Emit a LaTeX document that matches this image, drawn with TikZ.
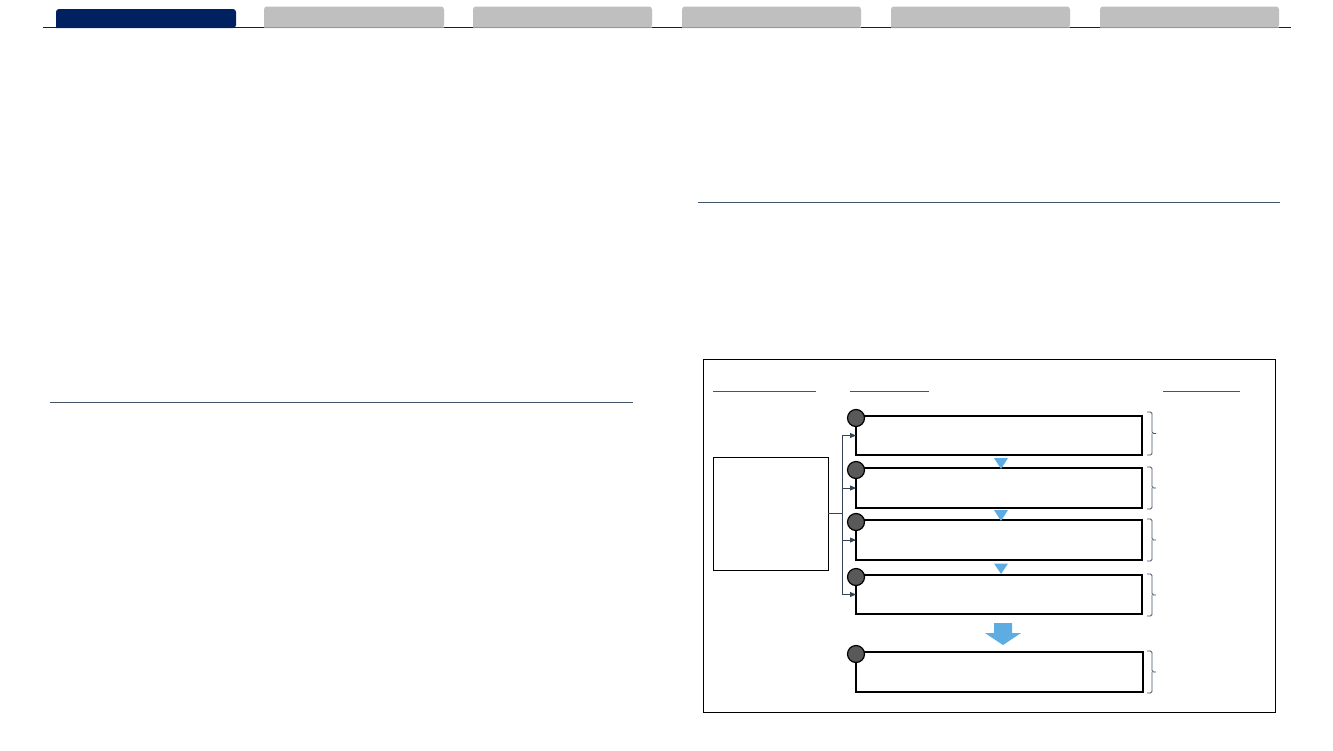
\documentclass[tikz,border=0pt]{standalone}
\usetikzlibrary{arrows.meta}
\definecolor{navy}{HTML}{002060}
\definecolor{tabgrey}{HTML}{BFBFBF}
\definecolor{slate}{HTML}{44546A}
\definecolor{sky}{HTML}{5DADE2}
\definecolor{dot}{HTML}{595959}
\begin{document}
\begin{tikzpicture}[x=1pt,y=-1pt,
  tabon/.style={fill=navy,rounded corners=3pt},
  taboff/.style={fill=tabgrey,rounded corners=3pt},
  rule/.style={draw=slate,line width=1pt},
  stepbox/.style={draw=black,line width=1.1pt,inner sep=0pt,outer sep=0pt},
  srcbox/.style={draw=black,line width=1pt,inner sep=0pt,outer sep=0pt},
  numdot/.style={circle,draw=black,fill=dot,line width=1.2pt,minimum size=17pt,inner sep=0pt},
  conn/.style={draw=slate!80!black,line width=0.8pt},
  tip/.style={-{Triangle[length=6pt,width=5pt]}},
  flow/.style={fill=sky,draw=none},
  brc/.style={draw=slate,line width=0.8pt,rounded corners=1.5pt}
]
\useasboundingbox (0,0) rectangle (1333,750);
\fill[white] (0,0) rectangle (1333,750);
% tab row
\draw[navy,line width=1pt] (43,27.5) -- (1291,27.5);
\path[tabon] (56,28) -- (56,9) -- (236,9) -- (236,28) [sharp corners] -- cycle;
\foreach \a/\b in {264/444,473/652,682/861,891/1070,1100/1279}{
  \path[taboff] (\a,28) -- (\a,6.5) -- (\b,6.5) -- (\b,28) [sharp corners] -- cycle;
  \draw[slate!60,line width=0.8pt] (\a,27.5) -- (\b,27.5);
}
% section rules
\draw[rule] (50,402) -- (633,402);
\draw[rule] (698,202) -- (1280,202);
% frame
\draw[black,line width=1pt] (703,359) rectangle (1275.5,712);
% column underlines
\draw[rule] (713,391) -- (816,391);
\draw[rule] (850,391) -- (929,391);
\draw[rule] (1163,391) -- (1240,391);
% source box
\node[srcbox,minimum width=115pt,minimum height=113pt] (L) at (770.5,513.5) {};
% step boxes
\node[stepbox,minimum width=286pt,minimum height=39pt] (s1) at (999,435.5) {};
\node[stepbox,minimum width=286pt,minimum height=40pt] (s2) at (999,488) {};
\node[stepbox,minimum width=286pt,minimum height=40pt] (s3) at (999,540) {};
\node[stepbox,minimum width=286pt,minimum height=39pt] (s4) at (999,594.5) {};
\node[stepbox,minimum width=287pt,minimum height=40pt] (s5) at (999.5,672) {};
% number dots
\foreach \s in {s1,s2,s3,s4,s5}{
  \node[numdot] (d\s) at ([yshift=-2pt]\s.north west) {};
}
% connectors
\coordinate (j) at (842,513.5);
\draw[conn] (L.east) -- (j);
\draw[conn] (j |- s1.west) -- (j |- s4.west);
\foreach \s in {s1,s2,s3,s4}{
  \draw[conn,tip] (j |- \s.west) -- (\s.west);
}
% flow triangles
\path[flow] (994,458) -- (1008,458) -- (1001,469) -- cycle;
\path[flow] (994,510) -- (1008,510) -- (1001,521) -- cycle;
\path[flow] (994,563.5) -- (1008,563.5) -- (1001,574) -- cycle;
\path[flow] (994,623) -- (1012,623) -- (1012,633) -- (1021,633) -- (1003,645) -- (985,633) -- (994,633) -- cycle;
% braces
\foreach \t/\b in {412/455,467/509,519/561,574/616,651/693}{
  \pgfmathsetmacro{\m}{(\t+\b)/2}
  \draw[brc] (1147,\t) -- (1152,\t) -- (1152,\m) -- (1156,\m);
  \draw[brc] (1147,\b) -- (1152,\b) -- (1152,\m);
}
\end{tikzpicture}
\end{document}
